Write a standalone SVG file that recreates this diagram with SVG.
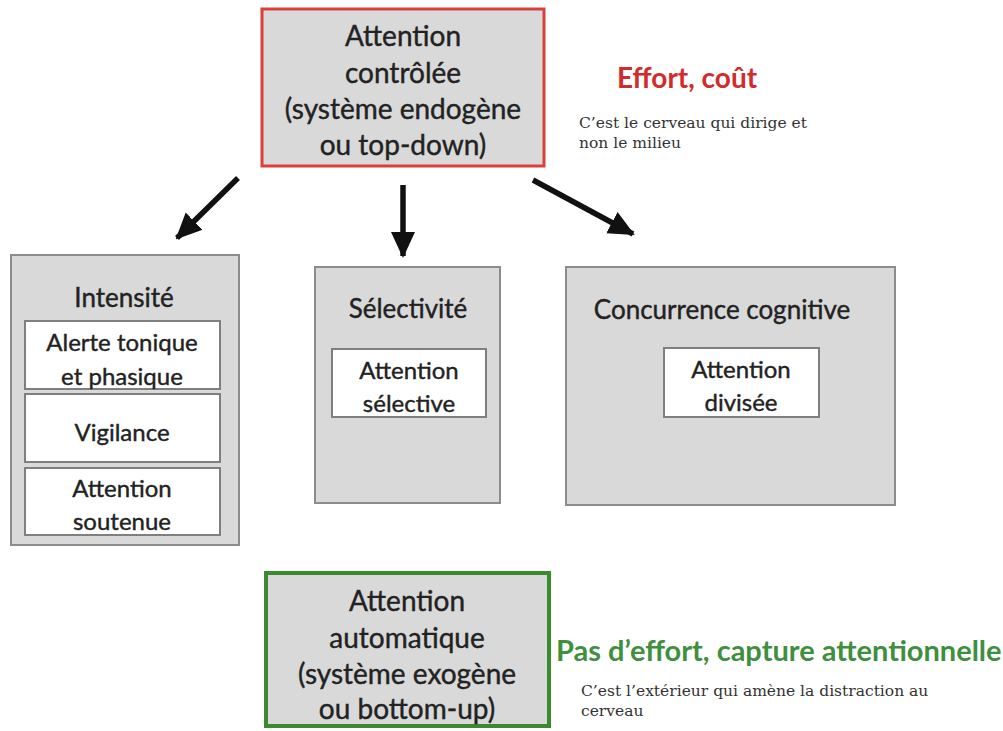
<svg xmlns="http://www.w3.org/2000/svg" width="1003" height="731" viewBox="0 0 1003 731">
  <style>
    .panel { fill: #d9d9d9; stroke: #8c8c8c; stroke-width: 2; }
    .inner { fill: #ffffff; stroke: #7f7f7f; stroke-width: 2; }
    .lbl { font-family: Lato, "Open Sans", sans-serif; fill: #222; stroke: #222; stroke-width: 0.4; text-anchor: middle; dominant-baseline: central; }
    .big { font-size: 28px; }
    .head { font-size: 26px; }
    .sub { font-size: 24px; }
    .note { font-family: "DejaVu Serif", serif; font-size: 15.5px; fill: #333; dominant-baseline: central; }
    .tag { font-family: Lato, "Open Sans", sans-serif; font-weight: bold; dominant-baseline: central; }
    .arrow { stroke: #111; stroke-width: 5.5; fill: none; marker-end: url(#head); }
  </style>
  <defs>
    <marker id="head" markerUnits="userSpaceOnUse" markerWidth="26" markerHeight="26" viewBox="0 0 26 26" refX="24" refY="13" orient="auto">
      <path d="M0,1 L26,13 L0,25 Z" fill="#111"/>
    </marker>
  </defs>
  <rect width="1003" height="731" fill="#ffffff"/>

  <!-- controlled attention -->
  <g id="controlee">
    <rect x="262" y="9" width="282" height="157" fill="#d9d9d9" stroke="#d9403a" stroke-width="3"/>
    <text class="lbl big" x="403" y="35">Attention</text>
    <text class="lbl big" x="403" y="72">contrôlée</text>
    <text class="lbl big" x="403" y="108">(système endogène</text>
    <text class="lbl big" x="403" y="144">ou top-down)</text>
  </g>

  <g id="effort">
    <text class="tag" x="617" y="77" font-size="28" fill="#d22b2b">Effort, coût</text>
    <text class="note" x="579" y="123">C’est le cerveau qui dirige et</text>
    <text class="note" x="579" y="143">non le milieu</text>
  </g>

  <!-- connectors -->
  <g id="connectors">
    <line class="arrow" x1="238" y1="178" x2="177" y2="238"/>
    <line class="arrow" x1="403" y1="185" x2="403" y2="256"/>
    <line class="arrow" x1="533" y1="180" x2="633" y2="234"/>
  </g>

  <!-- intensity -->
  <g id="intensite">
    <rect class="panel" x="11" y="255" width="228" height="290"/>
    <text class="lbl head" x="124" y="297">Intensité</text>
    <rect class="inner" x="25" y="321" width="195" height="68"/>
    <text class="lbl sub" x="122" y="341">Alerte tonique</text>
    <text class="lbl sub" x="122" y="375">et phasique</text>
    <rect class="inner" x="25" y="394" width="195" height="68"/>
    <text class="lbl sub" x="122" y="431">Vigilance</text>
    <rect class="inner" x="25" y="468" width="195" height="67"/>
    <text class="lbl sub" x="122" y="487">Attention</text>
    <text class="lbl sub" x="122" y="520">soutenue</text>
  </g>

  <!-- selectivity -->
  <g id="selectivite">
    <rect class="panel" x="315" y="267" width="185" height="236"/>
    <text class="lbl head" x="408" y="308">Sélectivité</text>
    <rect class="inner" x="332" y="349" width="154" height="68"/>
    <text class="lbl sub" x="409" y="369">Attention</text>
    <text class="lbl sub" x="409" y="402">sélective</text>
  </g>

  <!-- cognitive competition -->
  <g id="concurrence">
    <rect class="panel" x="566" y="267" width="329" height="238"/>
    <text class="lbl head" x="722" y="309">Concurrence cognitive</text>
    <rect class="inner" x="664" y="348" width="155" height="69"/>
    <text class="lbl sub" x="741" y="368">Attention</text>
    <text class="lbl sub" x="741" y="401">divisée</text>
  </g>

  <!-- automatic attention -->
  <g id="automatique">
    <rect x="266" y="573" width="283" height="153" fill="#d9d9d9" stroke="#3b8a2f" stroke-width="4"/>
    <text class="lbl big" x="407" y="600">Attention</text>
    <text class="lbl big" x="407" y="637">automatique</text>
    <text class="lbl big" x="407" y="673">(système exogène</text>
    <text class="lbl big" x="407" y="708">ou bottom-up)</text>
  </g>

  <g id="capture">
    <text class="tag" x="556" y="649" font-size="29" fill="#3f8f3f">Pas d’effort, capture attentionnelle</text>
    <text class="note" x="581" y="691">C’est l’extérieur qui amène la distraction au</text>
    <text class="note" x="581" y="711">cerveau</text>
  </g>
</svg>
